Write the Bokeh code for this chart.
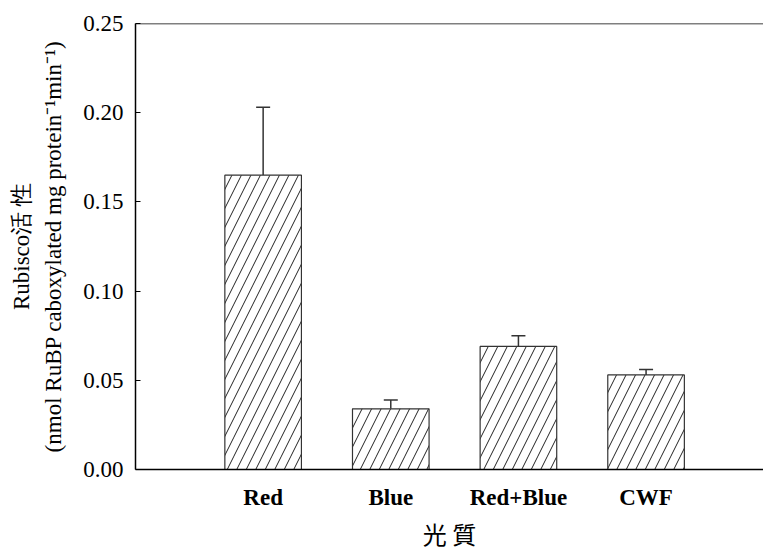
from bokeh.plotting import figure
from bokeh.models import (Range1d, FixedTicker, NumeralTickFormatter, Span,
                          ColumnDataSource, Whisker, TeeHead)
from bokeh.embed import file_html
from bokeh.resources import INLINE

categories = ["Red", "Blue", "Red+Blue", "CWF"]
values = [0.165, 0.034, 0.069, 0.053]
errors = [0.038, 0.005, 0.006, 0.003]
y_ticks = [0.0, 0.05, 0.10, 0.15, 0.20, 0.25]

xs = list(range(len(categories)))
src = ColumnDataSource(dict(
    x=xs, top=values,
    upper=[v + e for v, e in zip(values, errors)],
))

X0, X1 = -1, 3.92
p = figure(width=763, height=553, output_backend="svg", toolbar_location=None,
           x_range=Range1d(X0, X1), y_range=Range1d(0, 0.25),
           min_border_left=135, min_border_right=0, min_border_top=23,
           min_border_bottom=84)
p.outline_line_color = None
p.grid.visible = False
p.background_fill_color = "white"
p.border_fill_color = "white"

p.vbar(x="x", top="top", width=0.6, source=src, fill_color="white",
       line_color="#333333", line_width=1.2,
       hatch_pattern="/", hatch_scale=19, hatch_color="#222222",
       hatch_weight=1)

w = Whisker(source=src, base="x", upper="upper", lower="top",
            line_color="#333333", line_width=1.5,
            upper_head=TeeHead(size=14, line_color="#333333", line_width=1.5),
            lower_head=None)
p.add_layout(w)

p.add_layout(Span(location=0.25, dimension="width", line_color="black",
                  line_width=1.5))

# y axis
ya = p.yaxis[0]
ya.ticker = FixedTicker(ticks=y_ticks)
ya.formatter = NumeralTickFormatter(format="0.00")
ya.major_tick_in = 5
ya.major_tick_out = 0
ya.minor_tick_line_color = None
ya.major_label_standoff = 12
ya.major_label_text_font = "Liberation Serif"
ya.major_label_text_font_size = "23px"
ya.major_label_text_color = "black"
ya.axis_line_color = "black"
ya.axis_line_width = 1.5
ya.major_tick_line_color = "black"
ya.axis_label = "Rubisco活 性\n(nmol RuBP caboxylated mg protein\u207b\u00b9min\u207b\u00b9)"
ya.axis_label_text_font = "Liberation Serif"
ya.axis_label_text_font_size = "23px"
ya.axis_label_text_font_style = "normal"
ya.axis_label_text_color = "black"
ya.axis_label_text_line_height = 1.3
ya.axis_label_standoff = 14

# x axis
xa = p.xaxis[0]
xa.ticker = FixedTicker(ticks=xs)
xa.major_label_overrides = {i: c for i, c in zip(xs, categories)}
xa.major_tick_line_color = None
xa.minor_tick_line_color = None
xa.major_label_standoff = 9
xa.major_label_text_font = "Liberation Serif"
xa.major_label_text_font_style = "bold"
xa.major_label_text_font_size = "23px"
xa.major_label_text_color = "black"
xa.axis_line_color = "black"
xa.axis_line_width = 1.5
xa.axis_label = "光 質"
xa.axis_label_text_font = "Noto Sans CJK TC"
xa.axis_label_text_font_size = "24px"
xa.axis_label_text_font_style = "normal"
xa.axis_label_text_color = "black"
xa.axis_label_text_line_height = 1.0
xa.axis_label_standoff = 3

open("out.html", "w").write(file_html(p, INLINE))
